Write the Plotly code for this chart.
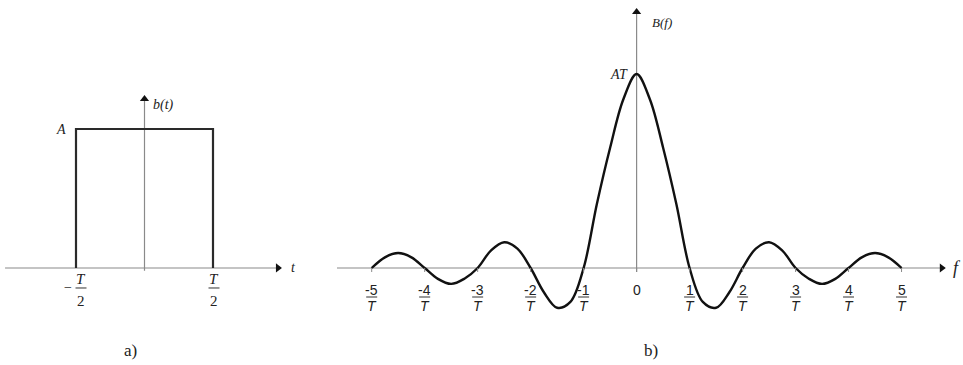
import plotly.graph_objects as go

# ---- data -------------------------------------------------------------
# a) rectangular pulse b(t): amplitude A on [-T/2, T/2] (t in units of T, b in units of A)
pulse_t = [-0.5, -0.5, 0.5, 0.5]
pulse_b = [0.0, 1.0, 1.0, 0.0]

# b) its spectrum B(f), sampled every quarter of 1/T (f in units of 1/T, B in units of AT)
spec_f = [-5, -4.75, -4.5, -4.25, -4, -3.75, -3.5, -3.25, -3, -2.75, -2.5, -2.25, -2,
          -1.75, -1.5, -1.25, -1, -0.75, -0.5, -0.25, 0,
          0.25, 0.5, 0.75, 1, 1.25, 1.5, 1.75, 2, 2.25, 2.5, 2.75, 3, 3.25, 3.5, 3.75,
          4, 4.25, 4.5, 4.75, 5]
spec_B = [0.0, 0.055, 0.077, 0.055, 0.0, -0.056, -0.082, -0.055, 0.0, 0.09, 0.133, 0.1, 0.0,
          -0.125, -0.205, -0.175, 0.0, 0.33, 0.62, 0.87, 1.0,
          0.87, 0.62, 0.33, 0.0, -0.175, -0.205, -0.125, 0.0, 0.1, 0.133, 0.09, 0.0, -0.055,
          -0.082, -0.056, 0.0, 0.055, 0.077, 0.055, 0.0]

# tick labels
pulse_ticks = [-0.5, 0.5]
pulse_tick_sign = ["\u2212", ""]
pulse_tick_num = ["T", "T"]
pulse_tick_den = ["2", "2"]

spec_ticks = [-5, -4, -3, -2, -1, 0, 1, 2, 3, 4, 5]
spec_tick_num = ["-5", "-4", "-3", "-2", "-1", "0", "1", "2", "3", "4", "5"]
spec_tick_den = ["T", "T", "T", "T", "T", "", "T", "T", "T", "T", "T"]

SERIF = "Liberation Serif"
SANS = "Liberation Sans"
AXIS_COL = "#8a8a8a"
TXT = "#222222"

fig = go.Figure()

# ---- axes lines (drawn as shapes, below traces) -----------------------
shapes = []
def seg(xref, yref, x0, y0, x1, y1, color=AXIS_COL, width=1.2):
    shapes.append(dict(type="line", xref=xref, yref=yref, x0=x0, y0=y0, x1=x1, y1=y1,
                       line=dict(color=color, width=width), layer="below"))

# panel a
seg("x", "y", -1.018, 0, 0.974, 0)
seg("x", "y", 0, -0.02, 0, 1.216)
# panel b
seg("x2", "y2", -5.655, 0, 5.76, 0)
seg("x2", "y2", 0, -0.02, 0, 1.32)

# arrow heads
def head(xa, ya, x, y, symbol):
    fig.add_trace(go.Scatter(x=[x], y=[y], mode="markers", xaxis=xa, yaxis=ya,
                             marker=dict(symbol=symbol, size=8, color="#111"),
                             hoverinfo="skip", showlegend=False))

head("x", "y", 0.974, 0, "triangle-right")
head("x", "y", 0, 1.216, "triangle-up")
head("x2", "y2", 5.76, 0, "triangle-right")
head("x2", "y2", 0, 1.32, "triangle-up")

# ---- curves ------------------------------------------------------------
fig.add_trace(go.Scatter(x=pulse_t, y=pulse_b, mode="lines", xaxis="x", yaxis="y",
                         line=dict(color="#2a2a2a", width=2.2),
                         hoverinfo="skip", showlegend=False))
fig.add_trace(go.Scatter(x=spec_f, y=spec_B, mode="lines", xaxis="x2", yaxis="y2",
                         line=dict(color="#111111", width=2.4, shape="spline", smoothing=1.0),
                         hoverinfo="skip", showlegend=False))

# ---- tick marks and fraction labels -----------------------------------
ann = []
def text(xref, yref, x, y, s, size, font=SERIF, xanchor="center", yanchor="middle",
         xshift=0, yshift=0):
    ann.append(dict(xref=xref, yref=yref, x=x, y=y, text=s, showarrow=False,
                    font=dict(family=font, size=size, color=TXT),
                    xanchor=xanchor, yanchor=yanchor, xshift=xshift, yshift=yshift))

def bar(xref, yref, x, ypix, half, dx=0):
    shapes.append(dict(type="line", xref=xref, yref=yref, xsizemode="pixel",
                       ysizemode="pixel", xanchor=x, yanchor=0,
                       x0=dx - half, x1=dx + half, y0=ypix, y1=ypix,
                       line=dict(color="#444", width=1.1)))

for t, sgn, num, den in zip(pulse_ticks, pulse_tick_sign, pulse_tick_num, pulse_tick_den):
    dx = 5 if sgn else 1
    text("x", "y", t, 0, "<i>%s</i>" % num, 15, xshift=dx, yshift=-11)
    text("x", "y", t, 0, den, 15, xshift=dx, yshift=-33)
    bar("x", "y", t, -20, 5.5, dx)
    if sgn:
        text("x", "y", t, 0, sgn, 14, xshift=-8, yshift=-20)

for f, num, den in zip(spec_ticks, spec_tick_num, spec_tick_den):
    shapes.append(dict(type="line", xref="x2", yref="y2", ysizemode="pixel", yanchor=0,
                       x0=f, x1=f, y0=0, y1=-4, line=dict(color=AXIS_COL, width=1)))
    text("x2", "y2", f, 0, num, 14, font=SANS, yshift=-22)
    if den:
        text("x2", "y2", f, 0, "<i>%s</i>" % den, 14, font=SANS, yshift=-38)
        bar("x2", "y2", f, -29, 5.5)

# ---- axis names and level labels ---------------------------------------
text("x", "y", -0.5, 1, "<i>A</i>", 14, xanchor="right", xshift=-8, yshift=-1)
text("x", "y", 0, 1.173, "<i>b(t)</i>", 14, xanchor="left", xshift=6)
text("x", "y", 1.084, 0, "<i>t</i>", 14)
text("x2", "y2", 0, 1, "<i>AT</i>", 14, xanchor="right", xshift=-7, yshift=-1)
text("x2", "y2", 0, 1.263, "<i>B(f)</i>", 13, xanchor="left", xshift=13)
text("x2", "y2", 6.04, 0, "<i>f</i>", 18)

# panel captions
for cx, cap in [(130, "a)"), (651, "b)")]:
    ann.append(dict(xref="paper", yref="paper", x=cx / 963, y=1 - 350 / 365, text=cap,
                    showarrow=False, xanchor="center", yanchor="middle",
                    font=dict(family=SERIF, size=17, color=TXT)))

hidden = dict(visible=False, showgrid=False, zeroline=False, fixedrange=True)
fig.update_layout(
    width=963, height=365,
    margin=dict(l=0, r=0, t=0, b=0),
    paper_bgcolor="white", plot_bgcolor="white",
    xaxis=dict(domain=[0, 300 / 963], range=[-1.0547, 1.1350], **hidden),
    yaxis=dict(domain=[0, 1], range=[-0.698, 1.928], **hidden),
    xaxis2=dict(domain=[300 / 963, 1], range=[-6.353, 6.160], anchor="y2", **hidden),
    yaxis2=dict(domain=[0, 1], range=[-0.5, 1.3814], anchor="x2", **hidden),
    shapes=shapes, annotations=ann,
)

fig.write_html("out.html")
